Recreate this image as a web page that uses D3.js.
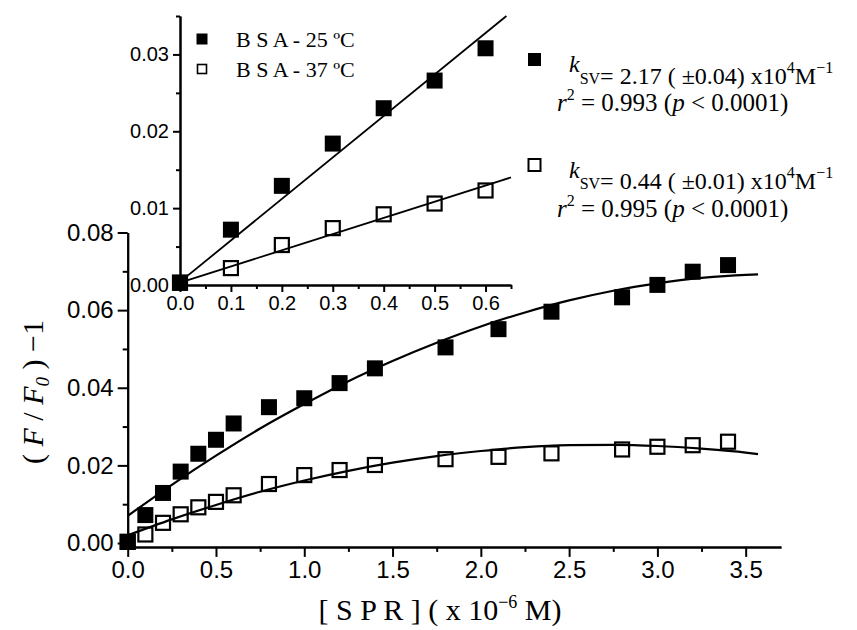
<!DOCTYPE html>
<html>
<head>
<meta charset="utf-8">
<script src="https://cdn.jsdelivr.net/npm/d3@7"></script>
<style>
  body { margin: 0; background: #fff; }
  svg { display: block; }
  .axis path, .axis line { stroke: #000; stroke-width: 2; }
  .axis text { font-family: "Liberation Sans", Arial, sans-serif; fill: #000; }
</style>
</head>
<body>
<div id="chart"></div>
<script>
// data
var conc = [0, 0.1, 0.2, 0.3, 0.4, 0.5, 0.6, 0.8, 1.0, 1.2, 1.4, 1.8, 2.1, 2.4, 2.8, 3.0, 3.2, 3.4]
var bsa25 = [0.0003, 0.0072, 0.0129, 0.0184, 0.0230, 0.0266, 0.0308, 0.0350, 0.0373, 0.0412, 0.0450, 0.0504, 0.0551, 0.0596, 0.0633, 0.0665, 0.0699, 0.0716]
var bsa37 = [0.0003, 0.0022, 0.0052, 0.0074, 0.0092, 0.0106, 0.0123, 0.0152, 0.0175, 0.0188, 0.0201, 0.0216, 0.0222, 0.0231, 0.0241, 0.0248, 0.0252, 0.0261]

// fitted curves (main plot)
var curveX = [0, 0.25, 0.5, 0.75, 1.0, 1.25, 1.5, 1.75, 2.0, 2.25, 2.5, 2.75, 3.0, 3.25, 3.5, 3.57]
var curve25 = [0.0070, 0.0150, 0.0225, 0.0295, 0.0358, 0.0417, 0.0469, 0.0516, 0.0558, 0.0594, 0.0625, 0.0650, 0.0669, 0.0683, 0.0691, 0.0692]
var curve37 = [0.0020, 0.0061, 0.0098, 0.0132, 0.0161, 0.0186, 0.0207, 0.0224, 0.0237, 0.0247, 0.0252, 0.0253, 0.0250, 0.0243, 0.0233, 0.0229]

// linear fits (inset)
var fit25X = [0, 0.641]
var fit25Y = [0.0004, 0.0350]
var fit37X = [0, 0.65]
var fit37Y = [0.0003, 0.0140]

var mainXTicks = [0, 0.5, 1.0, 1.5, 2.0, 2.5, 3.0, 3.5]
var mainXMinor = [0.25, 0.75, 1.25, 1.75, 2.25, 2.75, 3.25]
var mainYTicks = [0, 0.02, 0.04, 0.06, 0.08]
var mainYMinor = [0.01, 0.03, 0.05, 0.07]
var insetXTicks = [0, 0.1, 0.2, 0.3, 0.4, 0.5, 0.6]
var insetXMinor = [0.05, 0.15, 0.25, 0.35, 0.45, 0.55, 0.65]
var insetYTicks = [0, 0.01, 0.02, 0.03]
var insetYMinor = [0.005, 0.015, 0.025, 0.035]

var legendLabels = ['B S A - 25 \u00baC', 'B S A - 37 \u00baC']

var width = 857
var height = 630
var serif = '"Liberation Serif", "Times New Roman", serif'

var svg = d3.select('#chart')
  .append('svg')
  .attr('width', width)
  .attr('height', height)

svg.append('rect').attr('width', width).attr('height', height).attr('fill', '#fff')

// scales
var x = d3.scaleLinear().domain([0, 3.7]).range([127.7, 781])
var y = d3.scaleLinear().domain([-0.001, 0.08]).range([546.9, 232.5])
var xIn = d3.scaleLinear().domain([0, 0.65]).range([180, 511])
var yIn = d3.scaleLinear().domain([0, 0.035]).range([285, 16])

var points = conc.map(function(c, i) {
  return { x: c, a: bsa25[i], b: bsa37[i] }
})

function drawAxes(xs, ys, xt, xm, yt, ym, fmtX, fmtY, major, minor, fontSize) {
  var y0 = ys.range()[0]
  var x0 = xs.range()[0]

  svg.append('g')
    .attr('class', 'axis')
    .attr('transform', 'translate(0,' + y0 + ')')
    .call(d3.axisBottom(xs).tickValues(xm).tickSize(minor).tickFormat('').tickSizeOuter(0))
  svg.append('g')
    .attr('class', 'axis')
    .attr('transform', 'translate(0,' + y0 + ')')
    .call(d3.axisBottom(xs).tickValues(xt).tickSize(major).tickPadding(4).tickFormat(fmtX).tickSizeOuter(0))
    .selectAll('text')
    .attr('font-size', fontSize)

  svg.append('g')
    .attr('class', 'axis')
    .attr('transform', 'translate(' + x0 + ',0)')
    .call(d3.axisLeft(ys).tickValues(ym).tickSize(minor).tickFormat('').tickSizeOuter(0))
  svg.append('g')
    .attr('class', 'axis')
    .attr('transform', 'translate(' + x0 + ',0)')
    .call(d3.axisLeft(ys).tickValues(yt).tickSize(major).tickPadding(4).tickFormat(fmtY).tickSizeOuter(0))
    .selectAll('text')
    .attr('font-size', fontSize)
}

// main axes
drawAxes(x, y, mainXTicks, mainXMinor, mainYTicks, mainYMinor,
  d3.format('.1f'), d3.format('.2f'), 10, 5, 24)

// main fitted curves
var curveData25 = curveX.map(function(c, i) { return [c, curve25[i]] })
var curveData37 = curveX.map(function(c, i) { return [c, curve37[i]] })

var mainLine = d3.line()
  .x(function(d) { return x(d[0]) })
  .y(function(d) { return y(d[1]) })
  .curve(d3.curveMonotoneX)

svg.append('path').datum(curveData25).attr('d', mainLine)
  .attr('fill', 'none').attr('stroke', '#000').attr('stroke-width', 2.2)
svg.append('path').datum(curveData37).attr('d', mainLine)
  .attr('fill', 'none').attr('stroke', '#000').attr('stroke-width', 2.2)

// main markers
var big = 16
var open = 14
svg.selectAll('.m25').data(points).enter().append('rect')
  .attr('class', 'm25')
  .attr('x', function(d) { return x(d.x) - big / 2 })
  .attr('y', function(d) { return y(d.a) - big / 2 })
  .attr('width', big).attr('height', big)
  .attr('fill', '#000')
svg.selectAll('.m37').data(points).enter().append('rect')
  .attr('class', 'm37')
  .attr('x', function(d) { return x(d.x) - open / 2 })
  .attr('y', function(d) { return y(d.b) - open / 2 })
  .attr('width', open).attr('height', open)
  .attr('fill', 'none').attr('stroke', '#000').attr('stroke-width', 2.2)

// inset
drawAxes(xIn, yIn, insetXTicks, insetXMinor, insetYTicks, insetYMinor,
  d3.format('.1f'), d3.format('.2f'), 7, 4, 20)

var insetLine = d3.line()
  .x(function(d) { return xIn(d[0]) })
  .y(function(d) { return yIn(d[1]) })

svg.append('path').datum(fit25X.map(function(c, i) { return [c, fit25Y[i]] }))
  .attr('d', insetLine).attr('fill', 'none').attr('stroke', '#000').attr('stroke-width', 1.8)
svg.append('path').datum(fit37X.map(function(c, i) { return [c, fit37Y[i]] }))
  .attr('d', insetLine).attr('fill', 'none').attr('stroke', '#000').attr('stroke-width', 1.8)

var insetPoints = points.filter(function(d) { return d.x <= 0.6 })
svg.selectAll('.i37').data(insetPoints).enter().append('rect')
  .attr('class', 'i37')
  .attr('x', function(d) { return xIn(d.x) - open / 2 })
  .attr('y', function(d) { return yIn(d.b) - open / 2 })
  .attr('width', open).attr('height', open)
  .attr('fill', 'none').attr('stroke', '#000').attr('stroke-width', 2.2)
svg.selectAll('.i25').data(insetPoints).enter().append('rect')
  .attr('class', 'i25')
  .attr('x', function(d) { return xIn(d.x) - big / 2 })
  .attr('y', function(d) { return yIn(d.a) - big / 2 })
  .attr('width', big).attr('height', big)
  .attr('fill', '#000')

// inset legend
var legend = svg.append('g')
legend.selectAll('rect').data(legendLabels).enter().append('rect')
  .attr('x', function(d, i) { return i === 0 ? 196.5 : 197.5 })
  .attr('y', function(d, i) { return i === 0 ? 33.5 : 64.5 })
  .attr('width', function(d, i) { return i === 0 ? 11 : 9 })
  .attr('height', function(d, i) { return i === 0 ? 11 : 9 })
  .attr('fill', function(d, i) { return i === 0 ? '#000' : 'none' })
  .attr('stroke', '#000')
  .attr('stroke-width', function(d, i) { return i === 0 ? 0 : 1.6 })
legend.selectAll('text').data(legendLabels).enter().append('text')
  .attr('x', 236)
  .attr('y', function(d, i) { return 47 + i * 30 })
  .attr('font-family', serif)
  .attr('font-size', 22)
  .text(function(d) { return d })

// annotations
function annotation(cy, filled, kValue, r2Value) {
  var s = filled ? 13 : 12
  svg.append('rect')
    .attr('x', 534.5 - s / 2).attr('y', cy - s / 2)
    .attr('width', s).attr('height', s)
    .attr('fill', filled ? '#000' : 'none')
    .attr('stroke', '#000')
    .attr('stroke-width', filled ? 0 : 2)

  var base = cy + 24
  var t1 = svg.append('text')
    .attr('x', 569).attr('y', base)
    .attr('font-family', serif).attr('font-size', 24)
  t1.append('tspan').attr('font-style', 'italic').attr('dy', -11.5).text('k')
  t1.append('tspan').attr('font-size', 16).attr('dy', 11.5).text('SV')
  t1.append('tspan').text('= ' + kValue + ' x10')
  t1.append('tspan').attr('font-size', 16).attr('dy', -11).text('4')
  t1.append('tspan').attr('dy', 11).text('M')
  t1.append('tspan').attr('font-size', 16).attr('dy', -11).text('\u22121')

  var t2 = svg.append('text')
    .attr('x', 557).attr('y', base + 27.5)
    .attr('font-family', serif).attr('font-size', 25)
  t2.append('tspan').attr('font-style', 'italic').text('r')
  t2.append('tspan').attr('font-size', 16).attr('dy', -11).text('2')
  t2.append('tspan').attr('dy', 11).text(' = ' + r2Value + ' (')
  t2.append('tspan').attr('font-style', 'italic').text('p')
  t2.append('tspan').text(' < 0.0001)')
}

annotation(59.5, true, '2.17 ( \u00b10.04)', '0.993')
annotation(165, false, '0.44 ( \u00b10.01)', '0.995')

// axis titles
var xt = svg.append('text')
  .attr('x', 440).attr('y', 620)
  .attr('text-anchor', 'middle')
  .attr('font-family', serif).attr('font-size', 30)
xt.append('tspan').text('[ S P R ] ( x 10')
xt.append('tspan').attr('font-size', 18).attr('dy', -12).text('\u22126')
xt.append('tspan').attr('dy', 12).text(' M)')

var yt = svg.append('text')
  .attr('transform', 'translate(43,392) rotate(-90)')
  .attr('text-anchor', 'middle')
  .attr('font-family', serif).attr('font-size', 30)
yt.append('tspan').text('( ')
yt.append('tspan').attr('font-style', 'italic').text('F')
yt.append('tspan').text(' / ')
yt.append('tspan').attr('font-style', 'italic').text('F')
yt.append('tspan').attr('font-style', 'italic').attr('font-size', 19).attr('dy', 6).text('0')
yt.append('tspan').attr('dy', -6).text(' ) \u22121')
</script>
</body>
</html>
